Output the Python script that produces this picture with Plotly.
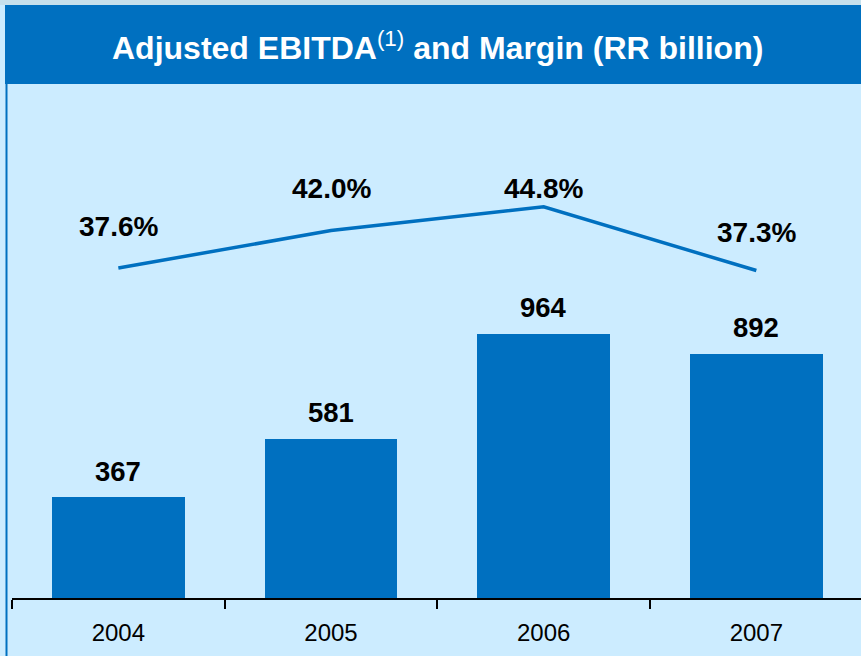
import plotly.graph_objects as go

years = ["2004", "2005", "2006", "2007"]
ebitda = [367, 581, 964, 892]
margin = [37.6, 42.0, 44.8, 37.3]
margin_labels = ["37.6%", "42.0%", "44.8%", "37.3%"]
ebitda_labels = ["367", "581", "964", "892"]
margin_label_shift = [42, 42, 18, 38]

BLUE = "#0070C0"
BG = "#CCECFF"
FONT = "Liberation Sans, Arial, sans-serif"

W, H = 861, 656
L, R, T, B = 12, 0, 85, 58
PW, PH = W - L - R, H - T - B


def px(p):
    return (p - L) / PW


def py(p):
    return (H - B - p) / PH


fig = go.Figure()
fig.add_trace(go.Bar(x=years, y=ebitda, marker=dict(color=BLUE, line=dict(width=0)),
                     width=0.625, hoverinfo="skip"))
fig.add_trace(go.Scatter(x=years, y=margin, yaxis="y2", mode="lines",
                         line=dict(color=BLUE, width=3.5), hoverinfo="skip"))

annotations = []
for i, (v, t) in enumerate(zip(ebitda, ebitda_labels)):
    annotations.append(dict(x=i, y=v, xref="x", yref="y", text=f"<b>{t}</b>",
                            showarrow=False, yanchor="middle", yshift=26,
                            font=dict(family=FONT, size=27.5, color="black")))
for i, (v, t, s) in enumerate(zip(margin, margin_labels, margin_label_shift)):
    annotations.append(dict(x=i, y=v, xref="x", yref="y2", text=f"<b>{t}</b>",
                            showarrow=False, yanchor="middle", yshift=s,
                            font=dict(family=FONT, size=28, color="black")))
annotations.append(dict(x=px(437.5), y=py(46), xref="paper", yref="paper",
                        text="<b>Adjusted EBITDA</b><sup>(1)</sup><b> and Margin (RR billion)</b>",
                        showarrow=False, xanchor="center", yanchor="middle",
                        font=dict(family=FONT, size=32, color="white")))

shapes = [
    dict(type="rect", xref="paper", yref="paper", x0=px(-5), x1=px(870), y0=py(5), y1=py(-5),
         fillcolor="#C6E0EC", line=dict(width=0), layer="below"),
    dict(type="rect", xref="paper", yref="paper", x0=px(5), x1=px(870), y0=py(84), y1=py(5),
         fillcolor=BLUE, line=dict(width=0), layer="below"),
    dict(type="line", xref="paper", yref="paper", x0=px(6.5), x1=px(6.5), y0=py(5), y1=py(670),
         line=dict(color=BLUE, width=2)),
]

hidden = dict(showgrid=False, zeroline=False, showline=False, showticklabels=False, ticks="")

fig.update_layout(
    width=W, height=H,
    margin=dict(l=L, r=R, t=T, b=B, pad=0),
    paper_bgcolor=BG, plot_bgcolor=BG,
    showlegend=False,
    bargap=0,
    xaxis=dict(type="category", range=[-0.5, -0.5 + PW / 212.67],
               tickson="boundaries", ticks="outside", ticklen=9, tickwidth=1.5,
               tickcolor="black", showline=True, linecolor="black", linewidth=1.5,
               showgrid=False, zeroline=False, ticklabelstandoff=12,
               tickfont=dict(family=FONT, size=24, color="black")),
    yaxis=dict(range=[0, PH / 0.274], **hidden),
    yaxis2=dict(range=[37.6 - 330 / 8.5, 37.6 - 330 / 8.5 + PH / 8.5], overlaying="y",
                side="right", **hidden),
    annotations=annotations,
    shapes=shapes,
)

fig.write_html("out.html", config={"displayModeBar": False},
               post_script="document.body.style.margin='0';document.body.style.padding='0';")
